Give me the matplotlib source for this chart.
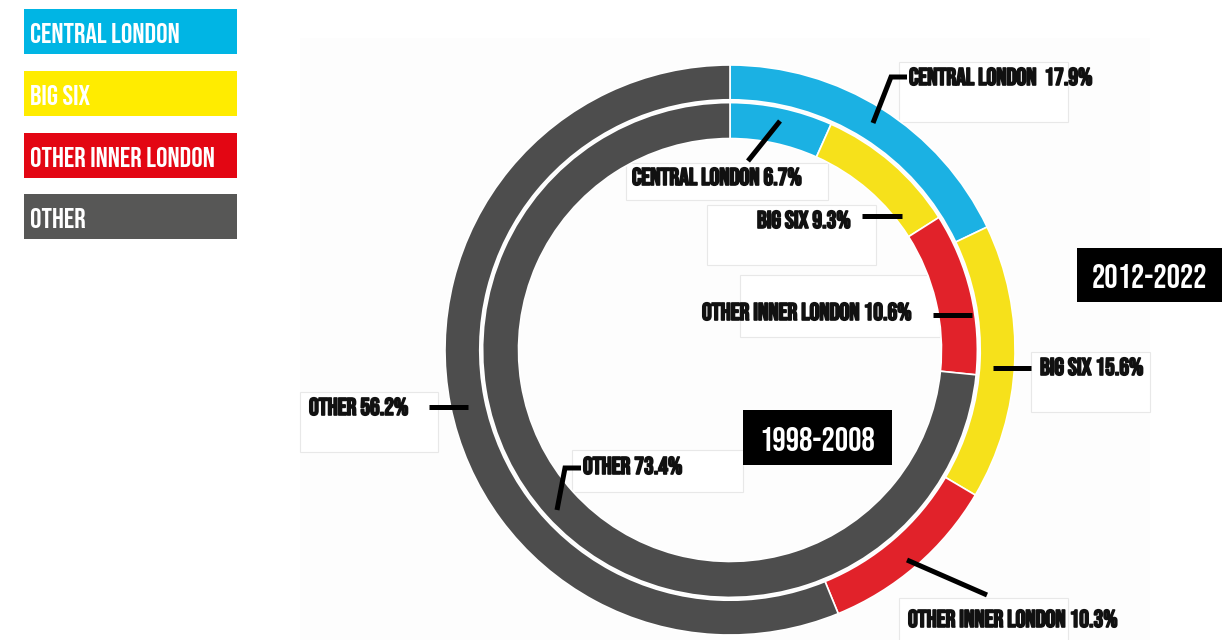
import matplotlib
matplotlib.use("Agg")
import matplotlib.pyplot as plt
import matplotlib.patheffects as pe
from matplotlib.patches import Rectangle

# Shares of development by area, clockwise from twelve o'clock
categories = ["CENTRAL LONDON", "BIG SIX", "OTHER INNER LONDON", "OTHER"]
share_2012_2022 = [17.9, 15.6, 10.3, 56.2]   # outer ring
share_1998_2008 = [6.7, 9.3, 10.6, 73.4]     # inner ring
period_outer = "2012-2022"
period_inner = "1998-2008"

ring_colors = ["#1BB1E3", "#F6E11B", "#E1222A", "#4D4D4D"]
legend_colors = ["#00B5E4", "#FFEC00", "#E30613", "#575756"]

W, H = 1224, 640
FONT = ["Bebas Neue", "DejaVu Sans"]

fig = plt.figure(figsize=(W / 100, H / 100), dpi=100)
fig.patch.set_facecolor("white")


def pixel_axes(zorder):
    a = fig.add_axes([0, 0, 1, 1], zorder=zorder)
    a.set_xlim(0, W)
    a.set_ylim(H, 0)
    a.axis("off")
    a.patch.set_alpha(0)
    return a


# background: faint panel and the thin label boxes
bg = pixel_axes(0)
bg.add_patch(Rectangle((300, 38), 850, 610, facecolor="#fdfdfd", edgecolor="none"))
label_boxes = [
    (899, 62, 1068, 122), (626, 163, 828, 200), (707, 205, 876, 265),
    (740, 275, 940, 337), (1031, 352, 1150, 412), (300, 392, 438, 452),
    (572, 450, 743, 492), (899, 598, 1068, 660),
]
for x0, y0, x1, y1 in label_boxes:
    bg.add_patch(Rectangle((x0, y0), x1 - x0, y1 - y0, facecolor="white",
                           edgecolor="#e8e8e8", lw=0.8))

# the two rings
cx, cy, r_px = 730, 350, 285
pie_ax = fig.add_axes([(cx - r_px) / W, (H - cy - r_px) / H, 2 * r_px / W, 2 * r_px / H],
                      zorder=1)
pie_ax.pie(share_2012_2022, radius=1.0, colors=ring_colors, startangle=90,
           counterclock=False,
           wedgeprops=dict(width=0.122, edgecolor="white", linewidth=1.2))
pie_ax.pie(share_1998_2008, radius=0.868, colors=ring_colors, startangle=90,
           counterclock=False,
           wedgeprops=dict(width=0.126, edgecolor="white", linewidth=1.2))
pie_ax.set_xlim(-1, 1)
pie_ax.set_ylim(-1, 1)
pie_ax.set_aspect("equal")
pie_ax.axis("off")

# foreground: legend, leaders, labels, period tags
fg = pixel_axes(2)

legend_top = [9, 71, 133, 194]
for name, col, top in zip(categories, legend_colors, legend_top):
    fg.add_patch(Rectangle((24, top), 213, 45, facecolor=col, edgecolor="none"))
    fg.text(30, top + 34, name, color="white", fontsize=20.5, family=FONT,
            va="baseline", ha="left")

heavy = [pe.withStroke(linewidth=1.2, foreground="#111111")]

# (text, x, baseline, leader path)
labels = [
    (f"{categories[0]}  {share_2012_2022[0]}%", 909, 85,
     [(873, 123), (891, 77), (907, 77)]),
    (f"{categories[0]} {share_1998_2008[0]}%", 632, 185,
     [(748, 161), (780, 121)]),
    (f"{categories[1]} {share_1998_2008[1]}%", 757, 228,
     [(862, 216), (902, 216)]),
    (f"{categories[2]} {share_1998_2008[2]}%", 702, 320,
     [(933, 315), (972, 315)]),
    (f"{categories[1]} {share_2012_2022[1]}%", 1040, 375,
     [(993, 368), (1031, 368)]),
    (f"{categories[3]} {share_2012_2022[3]}%", 309, 415,
     [(429, 407), (468, 407)]),
    (f"{categories[3]} {share_1998_2008[3]}%", 583, 474,
     [(557, 510), (565, 468), (581, 468)]),
    (f"{categories[2]} {share_2012_2022[2]}%", 908, 627,
     [(907, 560), (987, 595)]),
]
for text, tx, ty, path in labels:
    xs, ys = zip(*path)
    fg.plot(xs, ys, color="black", lw=3.6, solid_capstyle="butt",
            solid_joinstyle="miter")
    fg.text(tx, ty, text, color="#111111", fontsize=17.5, family=FONT,
            va="baseline", ha="left", path_effects=heavy)

for label, (x0, y0, x1, y1) in [(period_outer, (1077, 248, 1222, 302)),
                                 (period_inner, (743, 410, 892, 465))]:
    fg.add_patch(Rectangle((x0, y0), x1 - x0, y1 - y0, facecolor="black",
                           edgecolor="none"))
    fg.text((x0 + x1) / 2, y1 - 14, label, color="white", fontsize=24,
            family=FONT, ha="center", va="baseline")

fig.savefig("out.png", dpi=100)
